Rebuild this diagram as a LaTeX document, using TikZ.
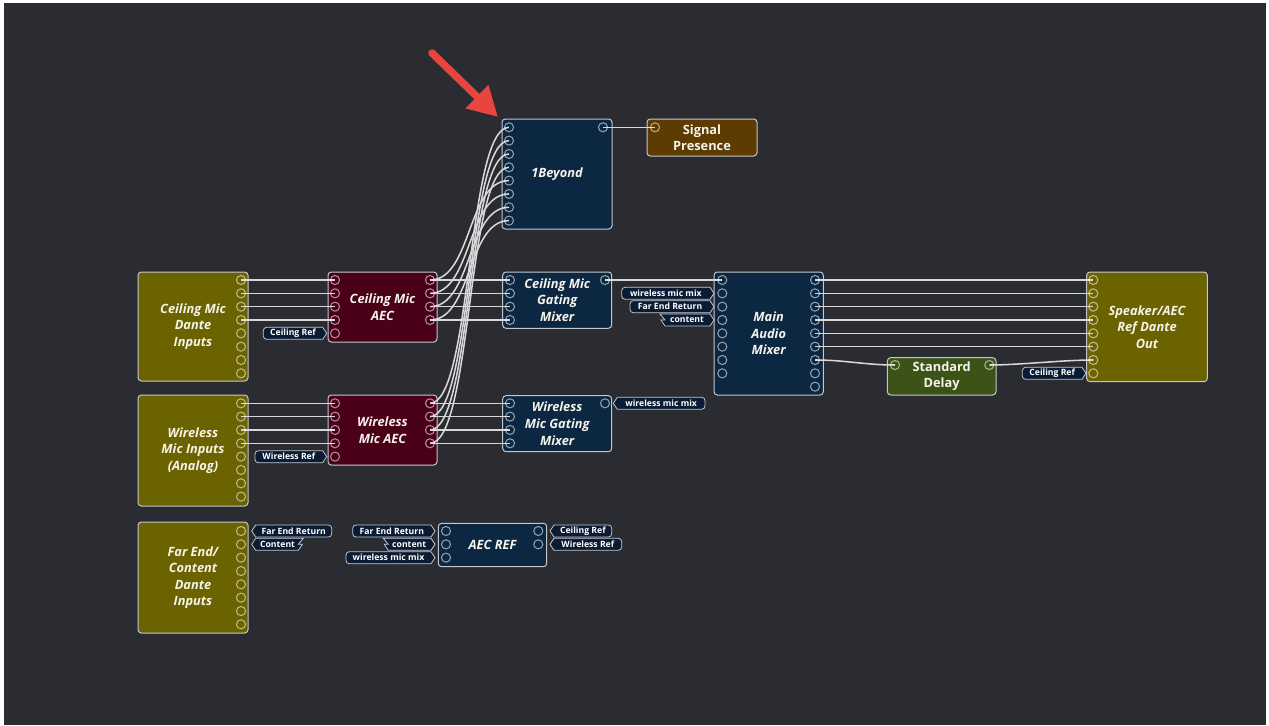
\documentclass[tikz,border=0pt]{standalone}
\usepackage{fontspec}
\setmainfont{Open Sans}
\usetikzlibrary{arrows.meta}
\definecolor{bg}{HTML}{2B2C31}
\definecolor{navy}{HTML}{0C2742}
\definecolor{olive}{HTML}{6B6200}
\definecolor{maroon}{HTML}{4B0019}
\definecolor{brownb}{HTML}{5E3B00}
\definecolor{greenb}{HTML}{3C5318}
\definecolor{wirec}{HTML}{D8D8D8}
\definecolor{edgec}{HTML}{C3C7CC}
\definecolor{tagfill}{HTML}{0A1C33}
\definecolor{redarrow}{HTML}{E8453F}
\definecolor{textc}{HTML}{F6F3EA}
\newcommand\bx[7]{\node[box,#6,minimum width={(#4-#2)*0.75pt},minimum height={(#5-#3)*0.75pt}] (#1) at ({(#2+#4)/2},{(#3+#5)/2}) {#7};}
% input tag: rounded left, pointed right (tip at #2)
\newcommand\tagin[5]{%
  \draw[tagsty] (#2,#3) -- (#2-4,#3-6) [rounded corners=2.5pt] -- (#4,#3-6) -- (#4,#3+6) [sharp corners] -- (#2-4,#3+6) -- cycle;
  \node[tagtxt] (#1) at ({(#2-4+#4)/2},#3) {#5};}
% input tag with broken (zigzag) left end
\newcommand\tagzin[5]{%
  \draw[tagsty] (#2,#3) -- (#2-4,#3-6) -- (#4,#3-6) -- (#4+5,#3) -- (#4+1,#3) -- (#4+5,#3+6) -- (#2-4,#3+6) -- cycle;
  \node[tagtxt] (#1) at ({(#2-4+#4+4)/2},#3) {#5};}
% output tag: pointed left (tip at #2), rounded right
\newcommand\tagout[5]{%
  \draw[tagsty] (#2,#3) -- (#2+4,#3-6) [rounded corners=2.5pt] -- (#4,#3-6) -- (#4,#3+6) [sharp corners] -- (#2+4,#3+6) -- cycle;
  \node[tagtxt] (#1) at ({(#2+4+#4)/2},#3) {#5};}
% output tag with broken (zigzag) right end
\newcommand\tagzout[5]{%
  \draw[tagsty] (#2,#3) -- (#2+4,#3-6) -- (#4,#3-6) -- (#4-5,#3) -- (#4-1,#3) -- (#4-5,#3+6) -- (#2+4,#3+6) -- cycle;
  \node[tagtxt] (#1) at ({(#2+4+#4-4)/2},#3) {#5};}
\begin{document}
\begin{tikzpicture}[x=0.75pt,y=-0.75pt,
  box/.style={draw=edgec, line width=0.75pt, rounded corners=2.5pt, inner sep=0pt, text=textc, align=center, font=\fontsize{9.6}{12.4}\selectfont\bfseries\itshape},
  uprightbox/.style={font=\fontsize{9.6}{12.4}\selectfont\bfseries},
  wire/.style={draw=wirec, line width=1.15pt},
  port/.style={draw=white, draw opacity=0.55, line width=0.8pt},
  tagsty/.style={draw=edgec, fill=tagfill, line width=0.6pt},
  tagtxt/.style={text=white, font=\fontsize{6.5}{7}\selectfont\bfseries, inner sep=0pt}]
\useasboundingbox (0,0) rectangle (1269,725);
\fill[white] (0,0) rectangle (1269,725);
\fill[bg] (4,3) rectangle (1266,725);
% boxes
\bx{beyond}{502}{119}{612}{229}{fill=navy}{1Beyond}
\bx{sig}{647}{119}{757}{156}{fill=brownb,uprightbox}{Signal\\Presence}
\bx{cmdi}{138}{272}{248}{381}{fill=olive}{Ceiling Mic\\Dante\\Inputs}
\bx{caec}{328}{272}{437}{342}{fill=maroon}{Ceiling Mic\\AEC}
\bx{wmi}{138}{395}{248}{506}{fill=olive}{Wireless\\Mic Inputs\\(Analog)}
\bx{waec}{328}{395}{437}{465}{fill=maroon}{Wireless\\Mic AEC}
\bx{fed}{138}{522}{248}{633}{fill=olive}{Far End/\\Content\\Dante\\Inputs}
\bx{cgm}{502.7}{272}{611.7}{328.3}{fill=navy}{Ceiling Mic\\Gating\\Mixer}
\bx{wgm}{502.7}{395.7}{611.7}{451.7}{fill=navy}{Wireless\\Mic Gating\\Mixer}
\bx{mam}{714}{272}{823.3}{395}{fill=navy}{Main\\Audio\\Mixer}
\bx{sad}{1086.7}{272}{1207.3}{381.7}{fill=olive}{Speaker/AEC\\Ref Dante\\Out}
\bx{dly}{887.3}{357.7}{996}{395}{fill=greenb,uprightbox}{Standard\\Delay}
\bx{aref}{438.3}{523.3}{546.7}{566.7}{fill=navy}{AEC REF}
% ports
\foreach \i in {1,...,8} {
  \coordinate (cmdi-o\i) at (241,{280+(\i-1)*13.33});
  \coordinate (wmi-o\i) at (241,{403.3+(\i-1)*13.33});
  \coordinate (fed-o\i) at (241,{531+(\i-1)*13.33});
  \coordinate (beyond-i\i) at (509,{127.3+(\i-1)*13.33});
  \coordinate (mam-i\i) at (722.3,{280+(\i-1)*13.33});
  \coordinate (sad-i\i) at (1093.3,{280+(\i-1)*13.33});
}
\foreach \i in {1,...,9} \coordinate (mam-o\i) at (815,{280+(\i-1)*13.33});
\foreach \i in {1,...,5} {
  \coordinate (caec-i\i) at (335,{280+(\i-1)*13.33});
  \coordinate (waec-i\i) at (335,{403.3+(\i-1)*13.33});
}
\foreach \i in {1,...,4} {
  \coordinate (caec-o\i) at (430,{280+(\i-1)*13.33});
  \coordinate (waec-o\i) at (430,{403.3+(\i-1)*13.33});
  \coordinate (cgm-i\i) at (510,{280+(\i-1)*13.33});
  \coordinate (wgm-i\i) at (510,{403.3+(\i-1)*13.33});
}
\foreach \i in {1,...,3} \coordinate (aref-i\i) at (446,{531+(\i-1)*13.33});
\foreach \i in {1,2} \coordinate (aref-o\i) at (538.3,{531+(\i-1)*13.33});
\coordinate (beyond-o1) at (603,127.3);
\coordinate (sig-i1) at (655,127.3);
\coordinate (cgm-o1) at (605,280);
\coordinate (wgm-o1) at (605,403.3);
\coordinate (dly-i1) at (895,365);
\coordinate (dly-o1) at (989.3,365);
% wires
\foreach \i in {1,...,4} {
  \draw[wire] (cmdi-o\i) -- (caec-i\i);
  \draw[wire] (caec-o\i) -- (cgm-i\i);
  \draw[wire] (wmi-o\i) -- (waec-i\i);
  \draw[wire] (waec-o\i) -- (wgm-i\i);
  \draw[wire] (waec-o\i) .. controls +(42,0) and +(-42,0) .. (beyond-i\i);
}
\foreach \i/\j in {1/5,2/6,3/7,4/8}
  \draw[wire] (caec-o\i) .. controls +(42,0) and +(-42,0) .. (beyond-i\j);
\draw[wire] (beyond-o1) -- (sig-i1);
\draw[wire] (cgm-o1) -- (mam-i1);
\foreach \i in {1,...,6} \draw[wire] (mam-o\i) -- (sad-i\i);
\draw[wire] (mam-o7) .. controls +(30,0) and +(-30,0) .. (dly-i1);
\draw[wire] (dly-o1) .. controls +(30,0) and +(-30,0) .. (sad-i7);
% port circles
\foreach \p in {cmdi-o1,cmdi-o2,cmdi-o3,cmdi-o4,cmdi-o5,cmdi-o6,cmdi-o7,cmdi-o8,
  wmi-o1,wmi-o2,wmi-o3,wmi-o4,wmi-o5,wmi-o6,wmi-o7,wmi-o8,
  fed-o1,fed-o2,fed-o3,fed-o4,fed-o5,fed-o6,fed-o7,fed-o8,
  beyond-i1,beyond-i2,beyond-i3,beyond-i4,beyond-i5,beyond-i6,beyond-i7,beyond-i8,beyond-o1,sig-i1,
  mam-i1,mam-i2,mam-i3,mam-i4,mam-i5,mam-i6,mam-i7,mam-i8,
  mam-o1,mam-o2,mam-o3,mam-o4,mam-o5,mam-o6,mam-o7,mam-o8,mam-o9,
  sad-i1,sad-i2,sad-i3,sad-i4,sad-i5,sad-i6,sad-i7,sad-i8,
  caec-i1,caec-i2,caec-i3,caec-i4,caec-i5,caec-o1,caec-o2,caec-o3,caec-o4,
  waec-i1,waec-i2,waec-i3,waec-i4,waec-i5,waec-o1,waec-o2,waec-o3,waec-o4,
  cgm-i1,cgm-i2,cgm-i3,cgm-i4,cgm-o1,wgm-i1,wgm-i2,wgm-i3,wgm-i4,wgm-o1,
  aref-i1,aref-i2,aref-i3,aref-o1,aref-o2,dly-i1,dly-o1}
  \draw[port] (\p) circle[radius=3.4pt];
% tags
\tagin{tCR1}{326.7}{333.3}{263.3}{Ceiling Ref}
\tagin{tWR1}{326.7}{456.7}{255}{Wireless Ref}
\tagout{tFER1}{251.7}{531}{331.7}{Far End Return}
\tagzout{tCont1}{251.7}{544.3}{303.3}{Content}
\tagin{tFER2}{435}{531}{352.7}{Far End Return}
\tagzin{tCont2}{435}{544.3}{383.3}{content}
\tagin{tWMM1}{435}{557.7}{346}{wireless mic mix}
\tagout{tCR2}{550}{531}{611.7}{Ceiling Ref}
\tagout{tWR2}{550}{544.3}{621.7}{Wireless Ref}
\tagin{tWMM2}{714}{293.3}{621.7}{wireless mic mix}
\tagin{tFER3}{714}{306.7}{630}{Far End Return}
\tagzin{tCont3}{714}{320}{660}{content}
\tagout{tWMM3}{613.3}{403.3}{705}{wireless mic mix}
\tagin{tCR3}{1086}{373.3}{1022.3}{Ceiling Ref}
% red pointer arrow
\coordinate (arrS) at (432,53);
\coordinate (arrT) at (498,117);
\draw[redarrow, line width=5.6pt, line cap=round, -{Triangle[length=22pt,width=23pt]}] (arrS) -- (arrT);
\end{tikzpicture}
\end{document}
